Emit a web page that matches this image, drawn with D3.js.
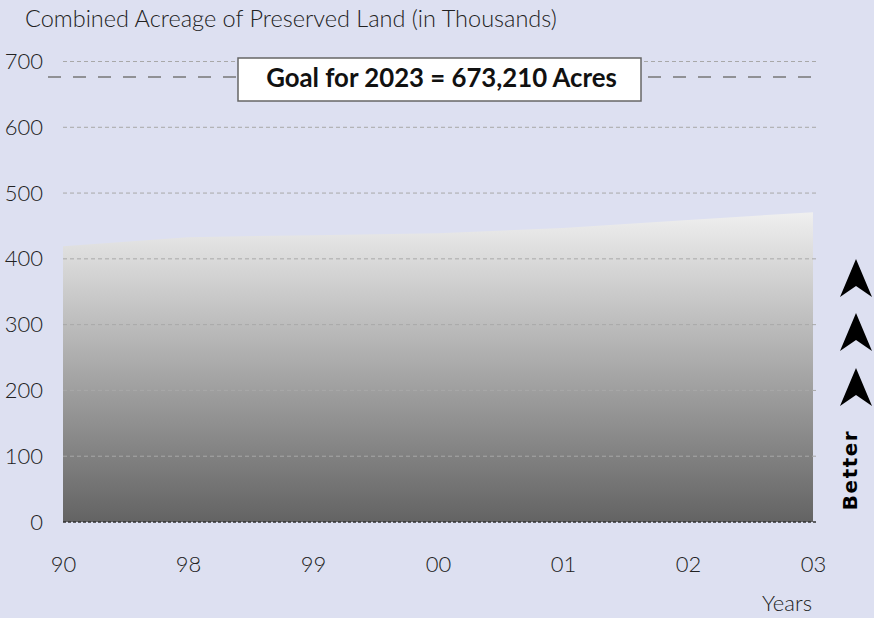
<!DOCTYPE html>
<html><head><meta charset="utf-8">
<script src="https://cdn.jsdelivr.net/npm/d3@7/dist/d3.min.js"></script>
<style>
html,body{margin:0;padding:0;background:#dde0f1;}
svg{display:block;}
</style></head>
<body>
<script>
const years = ["90","98","99","00","01","02","03"];
const acreage = [419, 433, 436, 439, 447, 459, 471];
const yTicks = [0,100,200,300,400,500,600,700];
const goalValue = 673.21;
const goalLabel = "Goal for 2023 = 673,210 Acres";
const title = "Combined Acreage of Preserved Land (in Thousands)";
const xTitle = "Years";
const betterLabel = "Better";

const W = 874, H = 618;
const svg = d3.select("body").append("svg").attr("width", W).attr("height", H);
svg.append("rect").attr("width", W).attr("height", H).attr("fill", "#dde0f1");

const x = d3.scalePoint().domain(years).range([63, 813]);
const y = d3.scaleLinear().domain([0, 700]).range([522, 61.5]);

const defs = svg.append("defs");
const grad = defs.append("linearGradient").attr("id", "g").attr("x1", 0).attr("x2", 0)
  .attr("gradientUnits", "userSpaceOnUse").attr("y1", y(480)).attr("y2", y(0));
grad.append("stop").attr("offset", 0).attr("stop-color", "#f2f2f2");
grad.append("stop").attr("offset", 1).attr("stop-color", "#636363");

const data = years.map((d, i) => ({year: d, v: acreage[i]}));
svg.append("path").datum(data)
  .attr("d", d3.area().x(d => x(d.year)).y0(y(0)).y1(d => y(d.v)))
  .attr("fill", "url(#g)");

// grid
svg.append("g").selectAll("line").data(yTicks.filter(d => d > 0)).join("line")
  .attr("x1", 63).attr("x2", 818).attr("y1", d => y(d)).attr("y2", d => y(d))
  .attr("stroke", "#a8a8a8").attr("stroke-width", 1).attr("stroke-dasharray", "4,3");
svg.append("line").attr("x1", 63).attr("x2", 818).attr("y1", y(0)).attr("y2", y(0))
  .attr("stroke", "#333").attr("stroke-width", 1.5).attr("stroke-dasharray", "3,2");

// y axis labels
const yAxis = d3.axisLeft(y).tickValues(yTicks).tickSize(0).tickPadding(0);
const ya = svg.append("g").attr("transform", "translate(43,0)").call(yAxis);
ya.select(".domain").remove();
ya.selectAll("text").attr("font-family", "Lato").attr("font-weight", 300)
  .attr("font-size", 22).attr("fill", "#222").attr("text-anchor", "end").attr("dy", "0.32em");

// x axis labels
const xAxis = d3.axisBottom(x).tickSize(0).tickPadding(0);
const xa = svg.append("g").attr("transform", "translate(0,556)").call(xAxis);
xa.select(".domain").remove();
xa.selectAll("text").attr("font-family", "Lato").attr("font-weight", 300)
  .attr("font-size", 22).attr("fill", "#222").attr("dy", "0.71em");

// goal line
svg.append("line").attr("x1", 48).attr("x2", 812).attr("y1", y(goalValue) - 2).attr("y2", y(goalValue) - 2)
  .attr("stroke", "#777").attr("stroke-width", 1.5).attr("stroke-dasharray", "13,12");
svg.append("rect").attr("x", 238).attr("y", 58).attr("width", 403).attr("height", 43)
  .attr("fill", "#fff").attr("stroke", "#666").attr("stroke-width", 1.5);
const gt = svg.append("text").attr("x", 441.5).attr("y", 87).attr("text-anchor", "middle")
  .attr("font-family", "Lato").attr("font-weight", 700).attr("font-size", 21).attr("fill", "#111")
  .text(goalLabel);
const gw = gt.node().getComputedTextLength();
gt.attr("font-size", 21 * 351 / gw);

// title
const tt = svg.append("text").attr("x", 25).attr("y", 27)
  .attr("font-family", "Lato").attr("font-weight", 300).attr("font-size", 21).attr("fill", "#222")
  .text(title);
const tw = tt.node().getComputedTextLength();
tt.attr("font-size", 21 * 532 / tw);

svg.append("text").attr("x", 812).attr("y", 611).attr("text-anchor", "end")
  .attr("font-family", "Lato").attr("font-weight", 300).attr("font-size", 22).attr("fill", "#222")
  .text(xTitle);

// arrows
const arrowTops = [259, 313, 368];
svg.append("g").selectAll("path").data(arrowTops).join("path")
  .attr("d", t => `M856,${t} L872,${t+38} L856,${t+27} L840,${t+38} Z`)
  .attr("fill", "#000");

svg.append("text").attr("transform", "translate(857,470) rotate(-90)")
  .attr("text-anchor", "middle").attr("font-family", "DejaVu Sans").attr("font-weight", 700)
  .attr("font-size", 20).attr("letter-spacing", 1.5).attr("fill", "#000").text(betterLabel);
</script>
</body></html>
